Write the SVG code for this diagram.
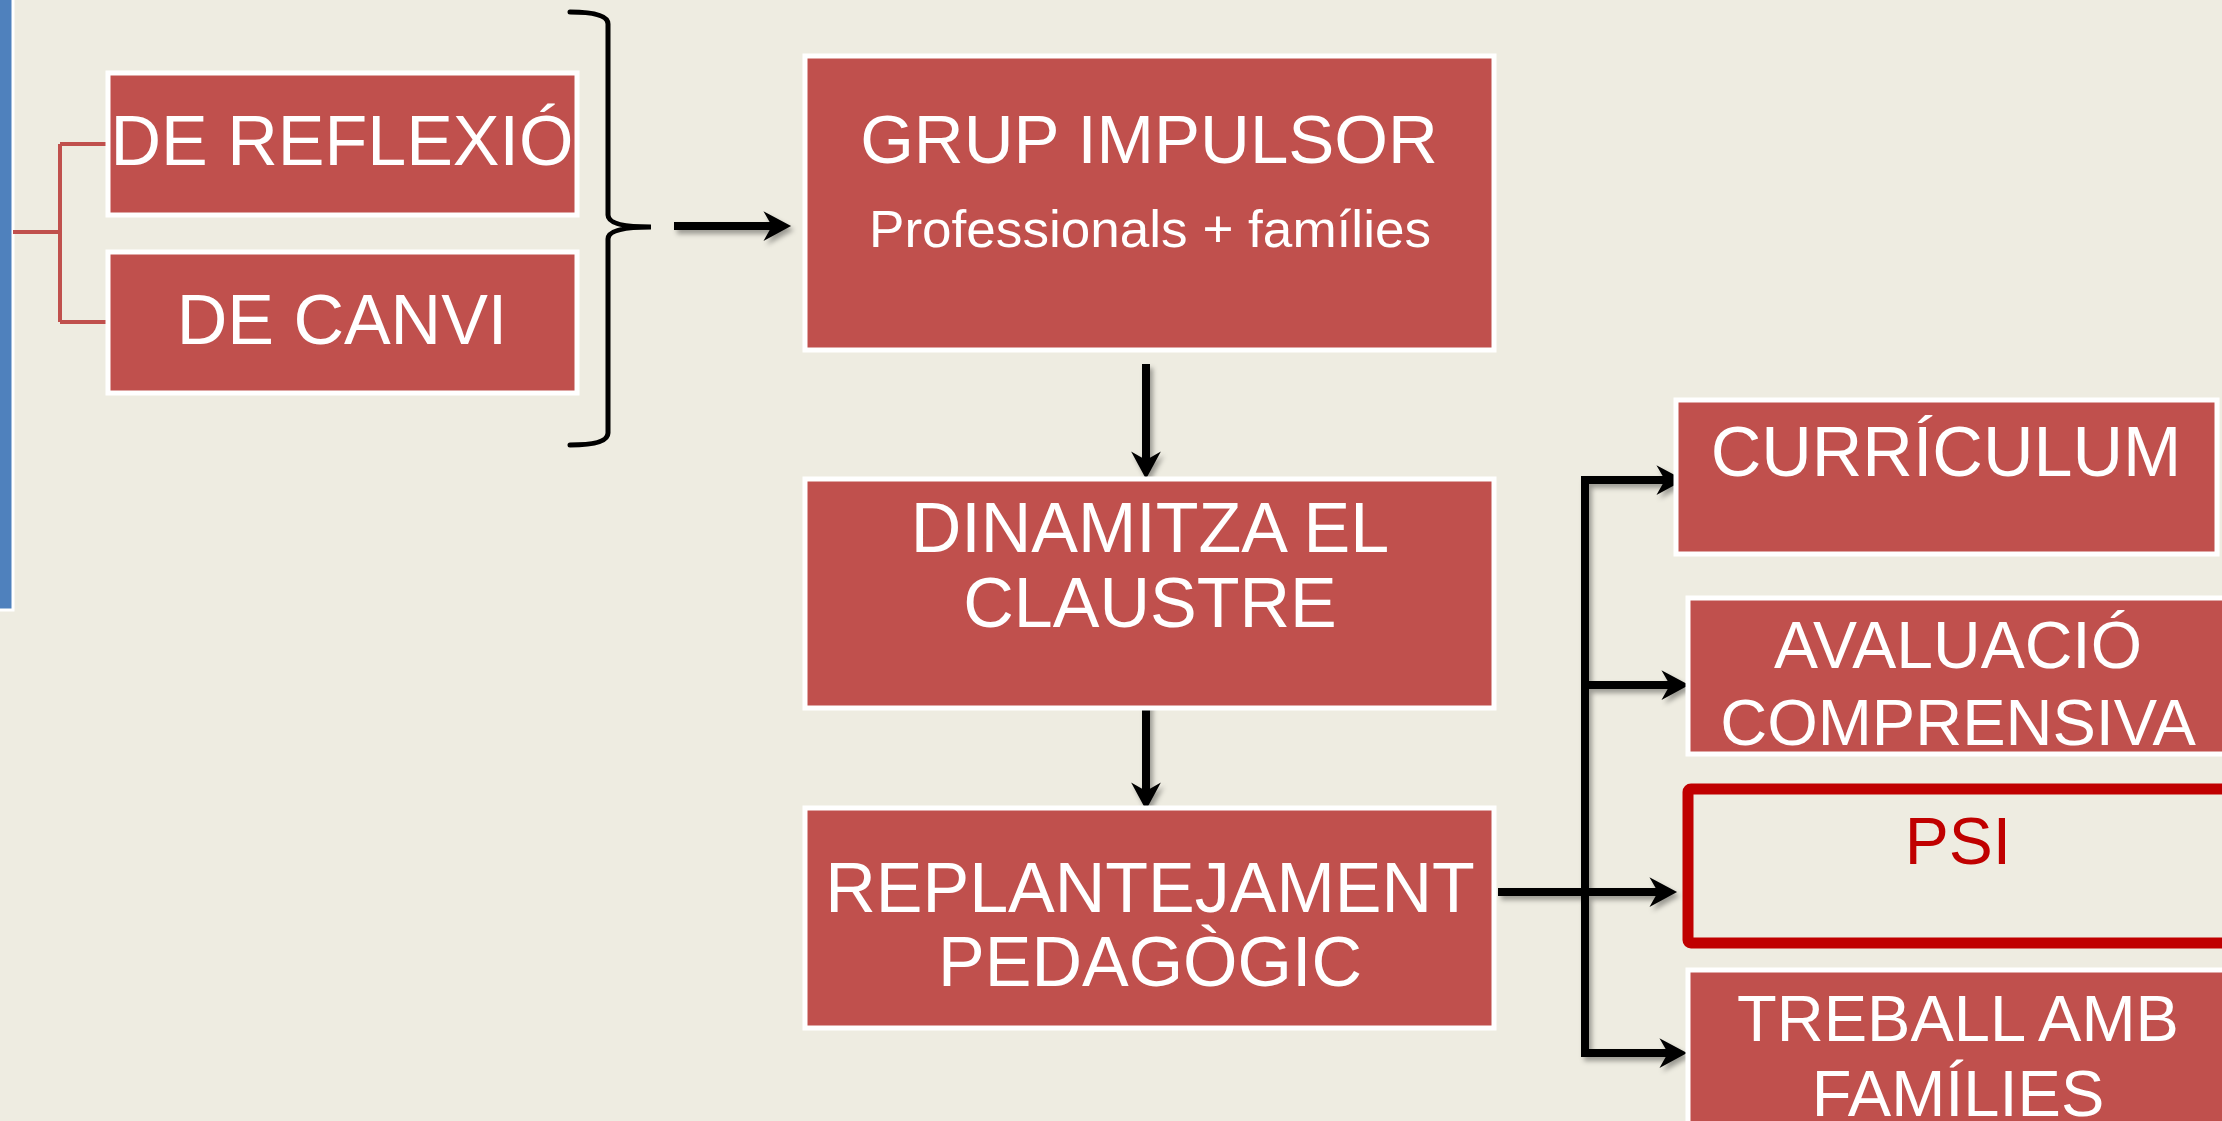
<svg xmlns="http://www.w3.org/2000/svg" width="2222" height="1121" viewBox="0 0 2222 1121">
<style>
.box{fill:#C0504D;stroke:#FFFFFF;stroke-width:5}
.t{font-family:"Liberation Sans",Arial,sans-serif;fill:#FFFFFF;text-anchor:middle}
.k{stroke:#000000;stroke-width:8;fill:none}
.r{stroke:#C0504D;stroke-width:4;fill:none}
</style>
<defs>
<marker id="ah" markerUnits="userSpaceOnUse" markerWidth="34" markerHeight="34" viewBox="-2 -16 32 32" refX="9" refY="0" orient="auto">
<path d="M0,-14 L26,0 L0,14 L8,0 Z" fill="#000000"/>
</marker>
<filter id="sh" x="-20%" y="-20%" width="140%" height="140%">
<feDropShadow dx="3" dy="4" stdDeviation="2.5" flood-color="#000000" flood-opacity="0.35"/>
</filter>
</defs>
<rect x="0" y="0" width="2222" height="1121" fill="#EEECE1"/>
<g id="bluebar"><rect x="-10" y="-10" width="23" height="620" fill="#4F81BD" stroke="#FFFFFF" stroke-width="3"/></g>
<g id="connectors">
<path class="r" d="M13,232 H60 M60,144 V322 M60,144 H107 M60,322 H107"/>
<path d="M570,12 Q608,12 608,24 L608,215 Q608,227 651,227 Q608,227 608,239 L608,433 Q608,445 570,445" stroke="#000000" stroke-width="5" fill="none" stroke-linecap="round"/>
<g filter="url(#sh)">
<line class="k" x1="674" y1="226" x2="773" y2="226" marker-end="url(#ah)"/>
<line class="k" x1="1146" y1="364" x2="1146" y2="461" marker-end="url(#ah)"/>
<line class="k" x1="1146" y1="697" x2="1146" y2="792" marker-end="url(#ah)"/>
<line class="k" x1="1498" y1="892" x2="1659" y2="892" marker-end="url(#ah)"/>
<line class="k" x1="1585" y1="476" x2="1585" y2="1057"/>
<line class="k" x1="1581" y1="480" x2="1666" y2="480" marker-end="url(#ah)"/>
<line class="k" x1="1585" y1="685" x2="1671" y2="685" marker-end="url(#ah)"/>
<line class="k" x1="1581" y1="1053" x2="1669" y2="1053" marker-end="url(#ah)"/>
</g>
</g>
<g id="reflexio"><rect class="box" x="108" y="73" width="469" height="142"/><text class="t" x="342" y="165" font-size="70">DE REFLEXIÓ</text></g>
<g id="canvi"><rect class="box" x="108" y="252" width="469" height="141"/><text class="t" x="342" y="344" font-size="70">DE CANVI</text></g>
<g id="grup"><rect class="box" x="805" y="56" width="689" height="294"/><text class="t" x="1149" y="163" font-size="69">GRUP IMPULSOR</text><text class="t" x="1150" y="247" font-size="52" textLength="562" lengthAdjust="spacingAndGlyphs">Professionals + famílies</text></g>
<g id="dinamitza"><rect class="box" x="805" y="479" width="689" height="229"/><text class="t" x="1150" y="552" font-size="70">DINAMITZA EL</text><text class="t" x="1150" y="627" font-size="70">CLAUSTRE</text></g>
<g id="replantejament"><rect class="box" x="805" y="808" width="689" height="220"/><text class="t" x="1150" y="912" font-size="70">REPLANTEJAMENT</text><text class="t" x="1150" y="986" font-size="70">PEDAGÒGIC</text></g>
<g id="curriculum"><rect class="box" x="1676" y="400" width="541" height="154"/><text class="t" x="1946" y="476" font-size="70">CURRÍCULUM</text></g>
<g id="avaluacio"><rect class="box" x="1688" y="598" width="560" height="156"/><text class="t" x="1958" y="668" font-size="66">AVALUACIÓ</text><text class="t" x="1958" y="745" font-size="65">COMPRENSIVA</text></g>
<g id="psi"><rect x="1688" y="789" width="560" height="154" rx="3" fill="none" stroke="#C00000" stroke-width="11"/><text class="t" x="1958" y="864" font-size="66" style="fill:#C00000">PSI</text></g>
<g id="treball"><rect class="box" x="1688" y="970" width="560" height="200"/><text class="t" x="1958" y="1041" font-size="65">TREBALL AMB</text><text class="t" x="1958" y="1116" font-size="65">FAMÍLIES</text></g>
</svg>
